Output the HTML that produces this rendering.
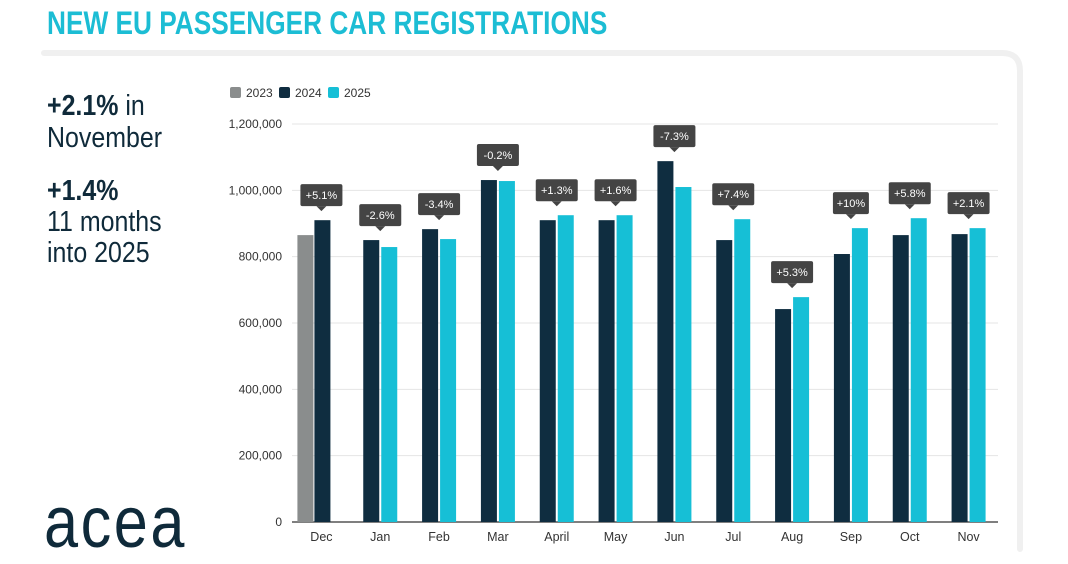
<!DOCTYPE html>
<html><head><meta charset="utf-8"><style>
body{margin:0;width:1068px;height:559px;background:#fff;overflow:hidden;font-family:"Liberation Sans",sans-serif;position:relative}
.t{position:absolute;white-space:nowrap;transform-origin:0 0}
</style></head><body>
<div class="t" style="left:47px;top:5px;font-size:32px;font-weight:bold;color:#1cbdd4;transform:scaleX(0.82)">NEW EU PASSENGER CAR REGISTRATIONS</div>
<svg width="1068" height="559" style="position:absolute;left:0;top:0">
<path d="M44 53 H1002 Q1020 53 1020 71 V549" fill="none" stroke="#f0f0f0" stroke-width="6" stroke-linecap="round"/>
</svg>
<div class="t" style="left:47px;top:90px;font-size:29px;color:#0f2a3a;line-height:32px;transform:scaleX(0.86)"><b>+2.1%</b> in<br>November</div>
<div class="t" style="left:47px;top:176px;font-size:29px;color:#0f2a3a;line-height:31px;transform:scaleX(0.86)"><b>+1.4%</b><br>11 months<br>into 2025</div>
<div class="t" style="left:44px;top:482px;font-size:72px;color:#0f2a3a;letter-spacing:3px;transform:scaleX(0.85)">acea</div>
<svg id="chart" width="1068" height="559" style="position:absolute;left:0;top:0"></svg>
<script>
const categories=["Dec","Jan","Feb","Mar","April","May","Jun","Jul","Aug","Sep","Oct","Nov"];
const values2023=[865000,null,null,null,null,null,null,null,null,null,null,null];
const values2024=[910000,850000,883000,1031000,910000,910000,1088000,850000,642000,808000,865000,868000];
const values2025=[null,829000,853000,1028000,925000,925000,1010000,913000,678000,886000,916000,886000];
const changeLabels=["+5.1%","-2.6%","-3.4%","-0.2%","+1.3%","+1.6%","-7.3%","+7.4%","+5.3%","+10%","+5.8%","+2.1%"];
const yTicks=[0,200000,400000,600000,800000,1000000,1200000];
const svg=document.getElementById('chart');
const NS="http://www.w3.org/2000/svg";
const x0=292,x1=998,y0=522,y1=124,yMax=1200000;
const step=(x1-x0)/categories.length;
const y=v=>y0-(v/yMax)*(y0-y1);
const xc=i=>x0+step*(i+0.5);
function mk(tag,attrs,parent){const e=document.createElementNS(NS,tag);for(const k in attrs)e.setAttribute(k,attrs[k]);(parent||svg).appendChild(e);return e;}
yTicks.forEach(t=>{
  const l=mk('line',{x1:x0,x2:x1,y1:y(t),y2:y(t),stroke:t===0?'#555':'#e4e4e4','stroke-width':t===0?1.5:1});
  
  
  const tx=mk('text',{x:282,y:y(t)+4,'text-anchor':'end','font-size':12,fill:'#333','font-family':'Liberation Sans'});
  tx.textContent=t.toLocaleString('en-US');
  
  
});
const bw=16;
categories.forEach((c,i)=>{
  const cx=xc(i);
  const series=[[values2023[i],'#8a8d8d'],[values2024[i],'#0f2d40'],[values2025[i],'#16bfd6']];
  const offs=i===0?[-24,-7,10]:[0,-17,1];
  let top=Infinity;
  series.forEach((s,k)=>{
    if(s[0]==null)return;
    const r=mk('rect',{x:cx+offs[k],y:y(s[0]),width:bw,height:y0-y(s[0]),fill:s[1]});
    
    
    top=Math.min(top,y(s[0]));
  });
  const lx=mk('text',{x:cx,y:y0+19,'text-anchor':'middle','font-size':12.5,fill:'#333','font-family':'Liberation Sans'});
  lx.textContent=c;
  
  
  const bx=cx;
  const g=mk('g',{});
  
  
  const bb=top-14;
  const w=changeLabels[i].length*6+12;
  mk('rect',{x:bx-w/2,y:bb-22,width:w,height:22,rx:2,fill:'#444'},g);
  mk('path',{d:`M${bx-5} ${bb} L${bx} ${bb+5} L${bx+5} ${bb}Z`,fill:'#444'},g);
  const t=mk('text',{x:bx,y:bb-7,'text-anchor':'middle','font-size':11,fill:'#fff','font-family':'Liberation Sans'},g);
  t.textContent=changeLabels[i];
});
const leg=[["2023","#8a8d8d"],["2024","#0f2d40"],["2025","#16bfd6"]];
leg.forEach((l,k)=>{
  const lx=230+k*49;
  const g=mk('g',{});
  
  
  mk('rect',{x:lx,y:87,width:11,height:11,rx:2,fill:l[1]},g);
  const t=mk('text',{x:lx+16,y:97,'font-size':12,fill:'#333','font-family':'Liberation Sans'},g);
  t.textContent=l[0];
});
</script>
</body></html>
